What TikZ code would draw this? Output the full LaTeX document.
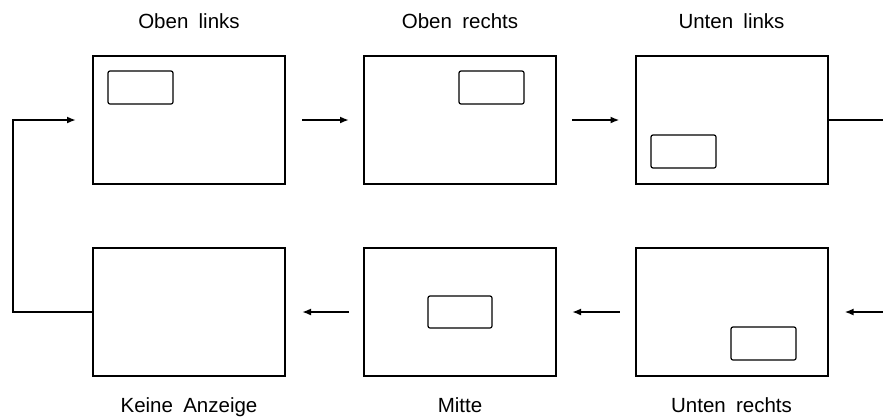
\documentclass[tikz,border=0pt]{standalone}
\usepackage{fontspec}
\setmainfont[WordSpace=1.8]{Liberation Sans}
\usetikzlibrary{arrows.meta}
\tikzset{
  screen/.style={draw, line width=2pt, minimum width=192pt, minimum height=128pt, inner sep=0pt},
  win/.style={draw, line width=1.2pt, rounded corners=2pt, minimum width=65pt, minimum height=33pt, inner sep=0pt},
  lbl/.style={anchor=base, font=\fontsize{20.5}{24}\selectfont, inner sep=0pt},
  arr/.style={line width=2.2pt, -{Latex[length=9pt,width=7pt]}},
  ln/.style={line width=2pt}
}
\begin{document}
\begin{tikzpicture}[x=1pt,y=-1pt]
\useasboundingbox (0,0) rectangle (883,416);
% screens
\node[screen] (s1) at (189,120) {};
\node[screen] (s2) at (460,120) {};
\node[screen] (s3) at (731.5,120) {};
\node[screen] (s4) at (189,312) {};
\node[screen] (s5) at (460,312) {};
\node[screen] (s6) at (731.5,312) {};
% windows
\node[win] (w1) at (140.5,87.5) {};
\node[win] (w2) at (491.5,87.5) {};
\node[win] (w3) at (683.5,151.5) {};
\node[win, minimum width=64pt, minimum height=32pt] (w5) at (460,312) {};
\node[win] (w6) at (763.5,343.5) {};
% labels
\node[lbl] (l1) at (189,28) {Oben links};
\node[lbl] (l2) at (460,28) {Oben rechts};
\node[lbl] (l3) at (731.5,28) {Unten links};
\node[lbl] (l4) at (189,412) {Keine Anzeige};
\node[lbl] (l5) at (460,412) {Mitte};
\node[lbl] (l6) at (731.5,412) {Unten rechts};
% connectors
\coordinate (re1) at (883,120);
\coordinate (re2) at (883,312);
\coordinate (lp) at (13,216);
\draw[arr, shorten <=16pt, shorten >=14pt] (s1.east) -- (s2.west);
\draw[arr, shorten <=15pt, shorten >=15pt] (s2.east) -- (s3.west);
\draw[ln] (s3.east) -- (re1);
\draw[arr, shorten >=16pt] (re2) -- (s6.east);
\draw[arr, shorten <=15pt, shorten >=15pt] (s6.west) -- (s5.east);
\draw[arr, shorten <=14pt, shorten >=16pt] (s5.west) -- (s4.east);
\draw[arr, shorten >=16pt] (s4.west) -| (lp) |- (s1.west);
\end{tikzpicture}
\end{document}
